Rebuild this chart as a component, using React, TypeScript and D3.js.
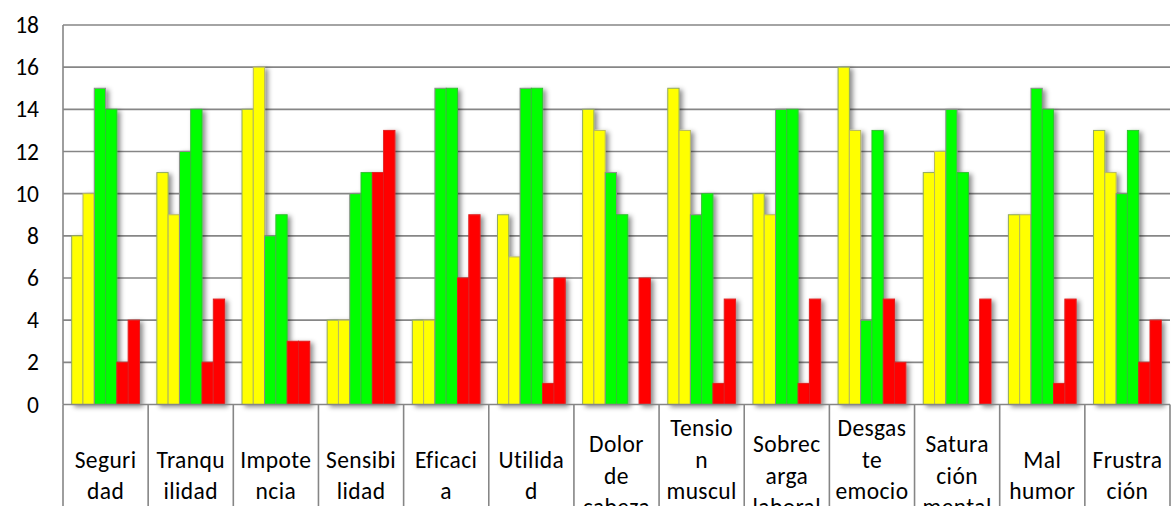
import React from "react";
import * as d3 from "d3";

const categories = [
  "Seguridad", "Tranquilidad", "Impotencia", "Sensibilidad", "Eficacia", "Utilidad",
  "Dolor de cabeza", "Tension muscular", "Sobrecarga laboral", "Desgaste emocional",
  "Saturación mental", "Mal humor", "Frustración",
];
const categoryLines = [
  ["Seguri", "dad"], ["Tranqu", "ilidad"], ["Impote", "ncia"], ["Sensibi", "lidad"],
  ["Eficaci", "a"], ["Utilida", "d"], ["Dolor", "de", "cabeza"], ["Tensio", "n", "muscul", "ar"],
  ["Sobrec", "arga", "laboral"], ["Desgas", "te", "emocio", "nal"], ["Satura", "ción", "mental"],
  ["Mal", "humor"], ["Frustra", "ción"],
];
const yellow1 = [8, 11, 14, 4, 4, 9, 14, 15, 10, 16, 11, 9, 13];
const yellow2 = [10, 9, 16, 4, 4, 7, 13, 13, 9, 13, 12, 9, 11];
const green1 = [15, 12, 8, 10, 15, 15, 11, 9, 14, 4, 14, 15, 10];
const green2 = [14, 14, 9, 11, 15, 15, 9, 10, 14, 13, 11, 14, 13];
const red1 = [2, 2, 3, 11, 6, 1, 0, 1, 1, 5, 0, 1, 2];
const red2 = [4, 5, 3, 13, 9, 6, 6, 5, 5, 2, 5, 5, 4];
const yTicks = [0, 2, 4, 6, 8, 10, 12, 14, 16, 18];

const series = [
  { values: yellow1, fill: "#ffff00", stroke: "#8fa860" },
  { values: yellow2, fill: "#ffff00", stroke: "#b8b860" },
  { values: green1, fill: "#00ff00", stroke: "#8c8c8c" },
  { values: green2, fill: "#00ff00", stroke: "#30c030" },
  { values: red1, fill: "#ff0000", stroke: "#e02020" },
  { values: red2, fill: "#ff0000", stroke: "#e02020" },
];

export default function App() {
  React.useEffect(() => {
    document.body.style.margin = "0";
  }, []);
  const W = 1173, H = 506;
  const left = 63, right = 1170, top = 25, bottom = 404.5;
  const x0 = d3.scaleBand<string>().domain(categories).range([left, right]).paddingInner(0).paddingOuter(0);
  const x1 = d3.scaleBand<number>().domain(series.map((_, i) => i)).range([0, x0.bandwidth()]).paddingInner(0).paddingOuter(0.77);
  const y = d3.scaleLinear().domain([0, 18]).range([bottom, top]);
  const font = "Carlito, 'Open Sans', sans-serif";
  const lineH = 31.5;
  const midY = 483.5;
  return (
    <svg width={W} height={H} style={{ position: "absolute", left: 0, top: 0, background: "#fff" }}>
      <defs>
        <filter id="sh" x="-20%" y="-10%" width="140%" height="120%">
          <feDropShadow dx="3" dy="2" stdDeviation="2.5" floodColor="#000" floodOpacity="0.45" />
        </filter>
      </defs>
      {yTicks.map((t) => (
        <g key={t}>
          {t > 0 && <line x1={left} x2={right} y1={y(t)} y2={y(t)} stroke="#868686" strokeWidth={1.6} />}
          <text x={39} y={y(t) + 8} textAnchor="end" fontFamily={font} fontSize={23.5} fill="#000">{t}</text>
        </g>
      ))}
      {categories.map((c, ci) => (
        <g key={c} filter="url(#sh)">
          {series.map((s, si) => {
            const v = s.values[ci];
            if (v <= 0) return null;
            const bx = (x0(c) as number) + (x1(si) as number);
            return (
              <rect key={si} x={bx} y={y(v)} width={x1.bandwidth()} height={y(0) - y(v)}
                fill={s.fill} stroke={s.stroke} strokeWidth={1} />
            );
          })}
        </g>
      ))}
      <line x1={left} x2={left} y1={top} y2={bottom} stroke="#868686" strokeWidth={1.6} />
      <line x1={left} x2={right} y1={bottom} y2={bottom} stroke="#868686" strokeWidth={1.6} />
      {categories.map((c) => (
        <line key={"d" + c} x1={x0(c) as number} x2={x0(c) as number} y1={bottom} y2={H} stroke="#868686" strokeWidth={1.6} />
      ))}
      <line x1={right} x2={right} y1={bottom} y2={H} stroke="#868686" strokeWidth={1.6} />
      {categories.map((c, ci) => {
        const lines = categoryLines[ci];
        const cx = (x0(c) as number) + x0.bandwidth() / 2;
        return (
          <text key={"t" + c} textAnchor="middle" fontFamily={font} fontSize={23.5} letterSpacing={0.4} fill="#000">
            {lines.map((l, li) => (
              <tspan key={li} x={cx} y={midY + (li - (lines.length - 1) / 2) * lineH}>{l}</tspan>
            ))}
          </text>
        );
      })}
    </svg>
  );
}
